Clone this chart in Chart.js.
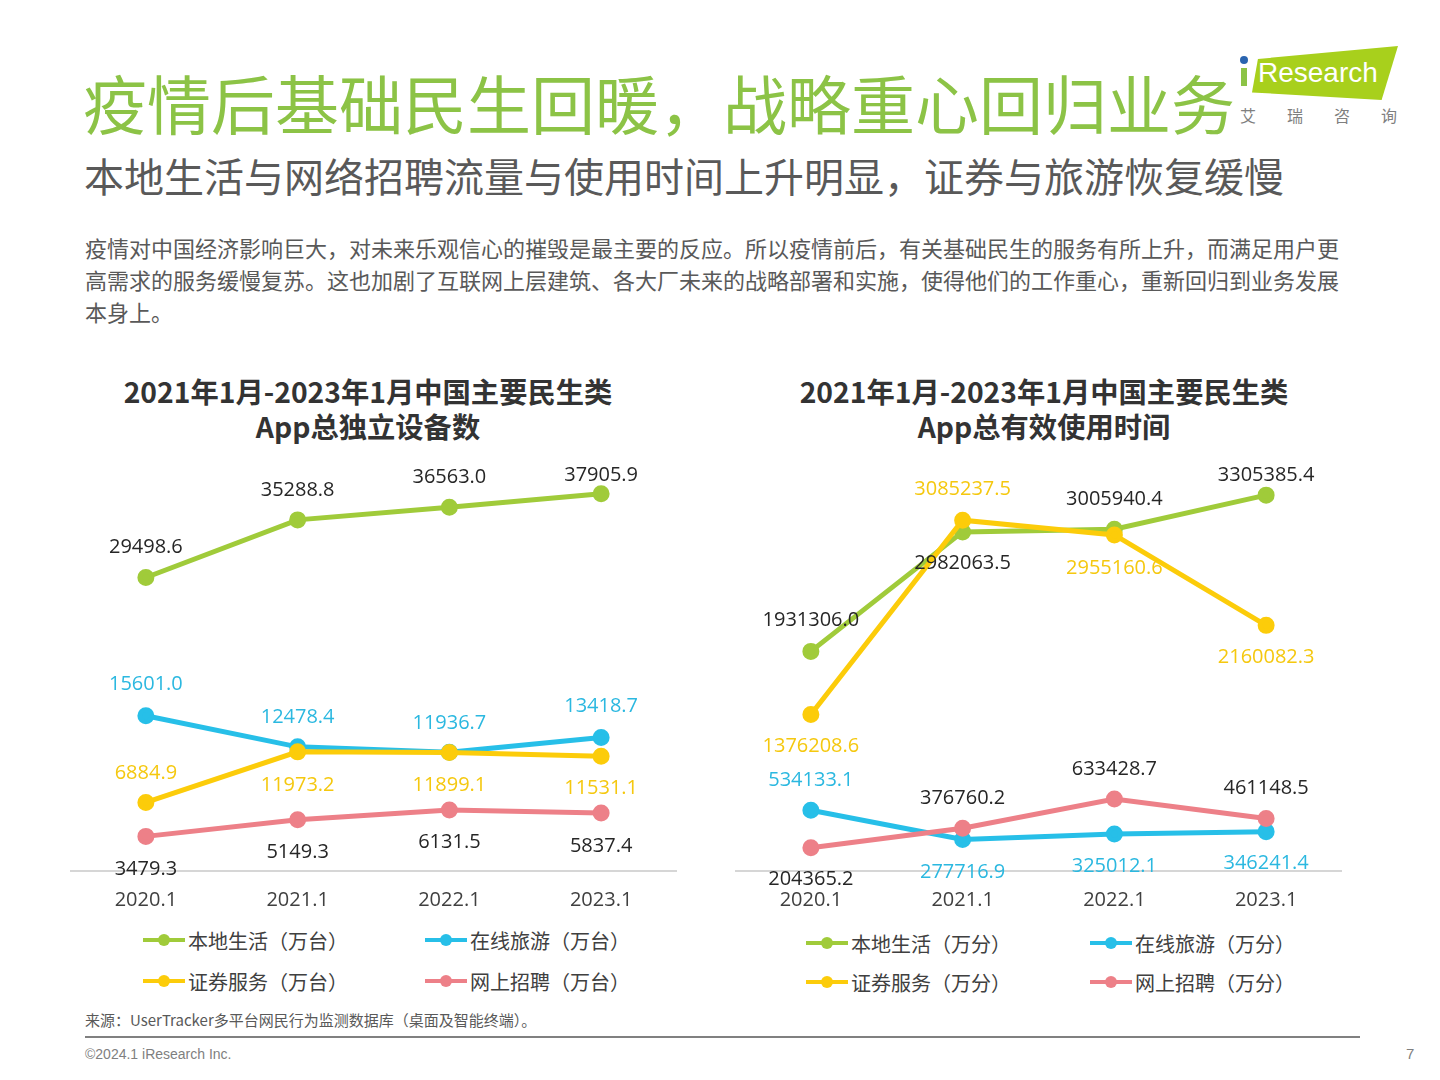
<!DOCTYPE html>
<html><head><meta charset="utf-8">
<script src="https://cdn.jsdelivr.net/npm/chart.js@4.4.0/dist/chart.umd.min.js"></script>
<style>
html,body{margin:0;padding:0;background:#fff;}
body{width:1440px;height:1080px;position:relative;overflow:hidden;font-family:"Noto Sans CJK SC","Noto Sans",sans-serif;}
.abs{position:absolute;white-space:nowrap;}
#title{left:83px;top:66px;font-size:64px;line-height:70px;color:#8cc346;}
#sub{left:84px;top:152px;font-size:40px;line-height:46px;color:#595959;}
#para{left:85px;top:231px;font-size:22px;line-height:32px;color:#595959;letter-spacing:0;}
.ctitle{top:373px;font-size:28.3px;line-height:35px;font-weight:bold;color:#333;text-align:center;width:640px;}
.legend{font-size:20px;color:#404040;}
.litem{position:absolute;display:flex;align-items:center;height:30px;}
.lsym{position:relative;width:42px;height:30px;margin-right:3px;}
.lsym .ln{position:absolute;left:0;top:13px;width:42px;height:4px;}
.lsym .dt{position:absolute;left:15px;top:9px;width:12px;height:12px;border-radius:50%;}
#src{left:85px;top:1009px;font-size:15px;line-height:22px;color:#595959;}
#rule{left:85px;top:1036px;width:1275px;height:2px;background:#808080;}
#copy{left:85px;top:1044px;font-size:14px;line-height:20px;color:#7f7f7f;font-family:"Liberation Sans",Arial,sans-serif;}
#page{left:1406px;top:1044px;font-size:15px;line-height:20px;color:#7f7f7f;font-family:"Liberation Sans",Arial,sans-serif;}
</style></head>
<body>
<div class="abs" id="title">疫情后基础民生回暖，战略重心回归业务</div>
<div class="abs" id="sub">本地生活与网络招聘流量与使用时间上升明显，证券与旅游恢复缓慢</div>
<div class="abs" id="para">疫情对中国经济影响巨大，对未来乐观信心的摧毁是最主要的反应。所以疫情前后，有关基础民生的服务有所上升，而满足用户更<br>高需求的服务缓慢复苏。这也加剧了互联网上层建筑、各大厂未来的战略部署和实施，使得他们的工作重心，重新回归到业务发展<br>本身上。</div>

<!-- logo -->
<div class="abs" style="left:1249px;top:46px;width:149px;height:54px;background:#a8d01c;clip-path:polygon(6% 24%,100% 0,89% 100%,2% 86%);"></div>
<div class="abs" style="left:1241px;top:68px;width:6px;height:18px;background:#8cc346;"></div>
<div class="abs" style="left:1240px;top:56px;width:8px;height:8px;border-radius:50%;background:#2a64b0;"></div>
<div class="abs" style="left:1258px;top:55px;font-size:28px;line-height:36px;color:#fff;font-family:'Liberation Sans',Arial,sans-serif;">Research</div>
<div class="abs" style="left:1240px;top:104px;font-size:16px;line-height:22px;color:#7f7f7f;letter-spacing:31px;">艾瑞咨询</div>

<div class="abs ctitle" style="left:48px;">2021年1月-2023年1月中国主要民生类<br>App总独立设备数</div>
<div class="abs ctitle" style="left:724px;">2021年1月-2023年1月中国主要民生类<br>App总有效使用时间</div>

<canvas id="c1" class="abs" style="left:70px;top:441px;" width="607" height="480"></canvas>
<canvas id="c2" class="abs" style="left:735px;top:441px;" width="607" height="480"></canvas>
<div id="lg1" class="legend"></div>
<div id="lg2" class="legend"></div>

<div class="abs" id="src">来源：UserTracker多平台网民行为监测数据库（桌面及智能终端）。</div>
<div class="abs" id="rule"></div>
<div class="abs" id="copy">©2024.1 iResearch Inc.</div>
<div class="abs" id="page">7</div>

<script>
// ---------- data ----------
const categories = ['2020.1', '2021.1', '2022.1', '2023.1'];
const seriesNames = ['本地生活', '在线旅游', '证券服务', '网上招聘'];
const devUnit = '（万台）';
const timeUnit = '（万分）';
// App 总独立设备数 (万台)
const devLocal = [29498.6, 35288.8, 36563.0, 37905.9];
const devTravel = [15601.0, 12478.4, 11936.7, 13418.7];
const devSecurities = [6884.9, 11973.2, 11899.1, 11531.1];
const devRecruit = [3479.3, 5149.3, 6131.5, 5837.4];
// App 总有效使用时间 (万分)
const timeLocal = [1931306.0, 2982063.5, 3005940.4, 3305385.4];
const timeTravel = [534133.1, 277716.9, 325012.1, 346241.4];
const timeSecurities = [1376208.6, 3085237.5, 2955160.6, 2160082.3];
const timeRecruit = [204365.2, 376760.2, 633428.7, 461148.5];

// ---------- styles ----------
const lineColors = ['#a0cb3a', '#27bfe8', '#fccc0a', '#ed8088'];
const labelColors = ['#262626', '#2bb8e0', '#f5c80f', '#262626'];
const drawOrder = [2, 3, 0, 1];
// vertical label offsets (px) relative to each point
const devLabelDy = [[-30, -30, -30, -19], [-31, -30, -29, -31], [-29, 33, 33, 32], [33, 33, 32, 33]];
const timeLabelDy = [[-31, 31, -30, -20], [-30, 33, 32, 32], [32, -31, 33, 32], [32, -30, -30, -30]];

const labelPlugin = {
  id: 'pointLabels',
  afterDatasetsDraw(chart, args, opts) {
    const ctx = chart.ctx;
    ctx.save();
    ctx.font = '20px "Open Sans", "Noto Sans", sans-serif';
    ctx.textAlign = 'center';
    ctx.textBaseline = 'middle';
    chart.data.datasets.forEach((ds, i) => {
      const meta = chart.getDatasetMeta(i);
      meta.data.forEach((pt, j) => {
        ctx.fillStyle = labelColors[i];
        ctx.fillText(ds.data[j].toFixed(1), pt.x, pt.y + opts.dy[i][j]);
      });
    });
    ctx.restore();
  }
};

function makeChart(id, seriesList, max, dy) {
  const datasets = seriesList.map((vals, i) => ({
    label: seriesNames[i],
    data: vals,
    borderColor: lineColors[i],
    backgroundColor: lineColors[i],
    pointBackgroundColor: lineColors[i],
    pointBorderColor: lineColors[i],
    borderWidth: 5,
    pointRadius: 6,
    pointHoverRadius: 6,
    tension: 0,
    clip: false,
    order: drawOrder[i]
  }));
  return new Chart(document.getElementById(id), {
    type: 'line',
    data: { labels: categories, datasets },
    options: {
      responsive: false,
      animation: false,
      events: [],
      layout: { autoPadding: false, padding: { top: 32, bottom: 0, left: 0, right: 0 } },
      plugins: { legend: { display: false }, tooltip: { enabled: false }, pointLabels: { dy } },
      scales: {
        x: {
          offset: true,
          grid: { display: false },
          border: { display: true, color: '#d6d6d6', width: 2 },
          ticks: { color: '#404040', padding: 9, font: { size: 20, family: '"Open Sans", "Noto Sans", sans-serif' } }
        },
        y: { display: false, min: 0, max: max }
      }
    },
    plugins: [labelPlugin]
  });
}

const ch1 = makeChart('c1', [devLocal, devTravel, devSecurities, devRecruit], 40000, devLabelDy);
const ch2 = makeChart('c2', [timeLocal, timeTravel, timeSecurities, timeRecruit], 3500000, timeLabelDy);

function buildLegend(chart, elId, unit, x0, x1, y0, y1) {
  const el = document.getElementById(elId);
  const pos = [[x0, y0], [x1, y0], [x0, y1], [x1, y1]];
  chart.data.datasets.forEach((ds, i) => {
    const item = document.createElement('div');
    item.className = 'litem';
    item.style.left = pos[i][0] + 'px';
    item.style.top = (pos[i][1] - 15) + 'px';
    item.innerHTML = '<div class="lsym"><div class="ln" style="background:' + ds.borderColor +
      '"></div><div class="dt" style="background:' + ds.borderColor + '"></div></div><span>' + ds.label + unit + '</span>';
    el.appendChild(item);
  });
}
buildLegend(ch1, 'lg1', devUnit, 143, 425, 940, 981);
buildLegend(ch2, 'lg2', timeUnit, 806, 1090, 943, 982);
</script>
</body></html>
